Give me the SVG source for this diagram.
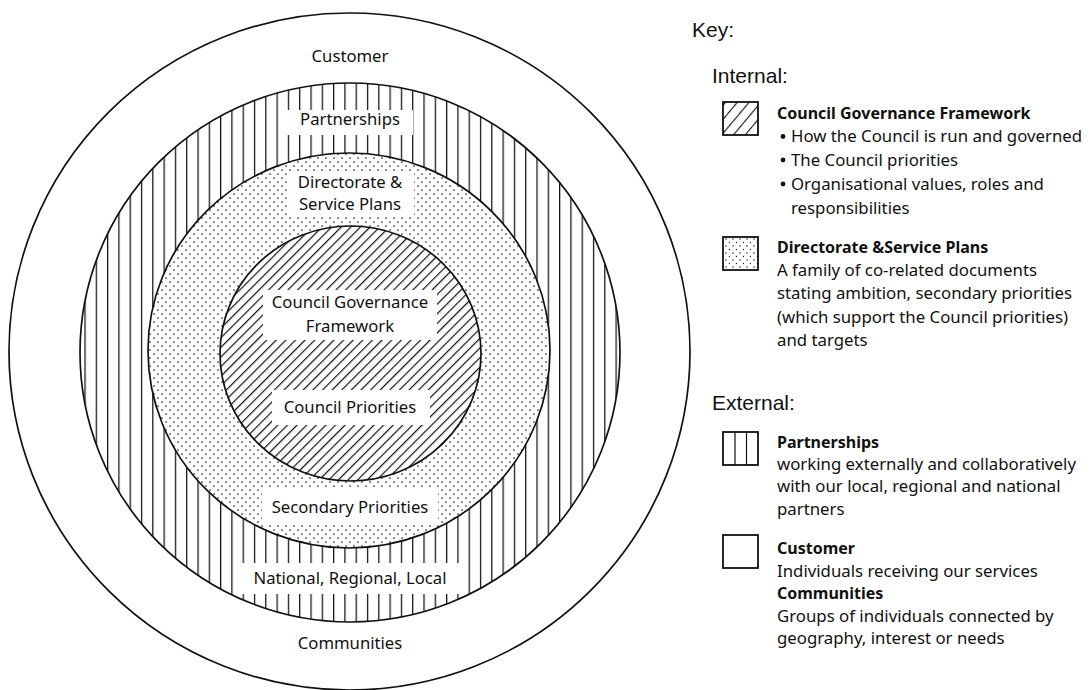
<svg xmlns="http://www.w3.org/2000/svg" width="1091" height="690" viewBox="0 0 1091 690">
<style>
.ring{stroke:#111;stroke-width:1.7}
.lbl{font-family:"Noto Sans","Open Sans",sans-serif;font-size:16.7px;fill:#111;text-anchor:middle}
.box{fill:#fff;stroke:none}
.hdr{font-family:"Liberation Sans",Arial,sans-serif;font-size:21px;fill:#111}
.kt{font-family:"Noto Sans","Open Sans",sans-serif;font-size:16.8px;fill:#111}
.kb{font-family:"Noto Sans","Open Sans",sans-serif;font-size:16px;font-weight:bold;fill:#111}
.sq{stroke:#111;stroke-width:1.8}
</style>
<defs>
<pattern id="vlines" patternUnits="userSpaceOnUse" x="84.4" y="0" width="11.3" height="20">
<rect width="11.3" height="20" fill="#fff"/>
<line x1="0.6" y1="0" x2="0.6" y2="20" stroke="#111" stroke-width="1.3"/>
</pattern>
<pattern id="hatch" patternUnits="userSpaceOnUse" width="6.8" height="6.8" patternTransform="rotate(45)">
<rect width="6.8" height="6.8" fill="#fff"/>
<line x1="0.6" y1="0" x2="0.6" y2="6.8" stroke="#111" stroke-width="1.2"/>
</pattern>
<pattern id="dots" patternUnits="userSpaceOnUse" width="8" height="8">
<rect width="8" height="8" fill="#fff"/>
<circle cx="2" cy="2" r="0.85" fill="#222"/>
<circle cx="6" cy="6" r="0.85" fill="#222"/>
</pattern>
<pattern id="khatch" patternUnits="userSpaceOnUse" width="9" height="9" patternTransform="rotate(40)">
<rect width="9" height="9" fill="#fff"/>
<line x1="0.6" y1="0" x2="0.6" y2="9" stroke="#111" stroke-width="1.1"/>
</pattern>
<pattern id="kdots" patternUnits="userSpaceOnUse" x="723" y="237" width="7" height="7">
<rect width="7" height="7" fill="#fff"/>
<circle cx="3" cy="2" r="0.75" fill="#222"/>
<circle cx="6.5" cy="5.5" r="0.75" fill="#222"/>
</pattern>
</defs>

<g id="customer-ring">
<ellipse class="ring" cx="349.5" cy="351.5" rx="340.5" ry="338.5" fill="#fff"/>
<text class="lbl" x="350" y="61.5">Customer</text>
<text class="lbl" x="350" y="648.5">Communities</text>
</g>

<g id="partnerships-ring">
<ellipse class="ring" cx="350" cy="352.5" rx="270" ry="269.5" fill="url(#vlines)"/>
<rect class="box" x="287" y="110" width="126" height="25"/>
<text class="lbl" x="350" y="124.5">Partnerships</text>
<rect class="box" x="238" y="563" width="222" height="31"/>
<text class="lbl" x="350" y="584">National, Regional, Local</text>
</g>

<g id="directorate-ring">
<ellipse class="ring" cx="349" cy="350.5" rx="201" ry="197.5" fill="url(#dots)"/>
<rect class="box" x="289" y="173" width="125" height="44"/>
<text class="lbl" x="350" y="188">Directorate &amp;</text>
<text class="lbl" x="350" y="210">Service Plans</text>
<rect class="box" x="262" y="489" width="176" height="34"/>
<text class="lbl" x="350" y="513">Secondary Priorities</text>
</g>

<g id="council-core">
<ellipse class="ring" cx="350.5" cy="353.5" rx="130.5" ry="127.5" fill="url(#hatch)"/>
<rect class="box" x="263" y="290" width="174" height="50"/>
<text class="lbl" x="350" y="308">Council Governance</text>
<text class="lbl" x="350" y="331.5">Framework</text>
<rect class="box" x="272" y="390" width="158" height="35"/>
<text class="lbl" x="350" y="413">Council Priorities</text>
</g>

<g id="key">
<text class="hdr" x="692" y="37">Key:</text>
<text class="hdr" x="712" y="83">Internal:</text>
<text class="hdr" x="712" y="410">External:</text>
</g>

<g id="key-council">
<rect class="sq" x="723" y="102" width="35" height="33" fill="url(#khatch)"/>
<text class="kb" x="777" y="119">Council Governance Framework</text>
<circle cx="783" cy="136.5" r="2.4" fill="#111"/>
<text class="kt" x="791" y="142">How the Council is run and governed</text>
<circle cx="783" cy="160" r="2.4" fill="#111"/>
<text class="kt" x="791" y="165.5">The Council priorities</text>
<circle cx="783" cy="184" r="2.4" fill="#111"/>
<text class="kt" x="791" y="189.5">Organisational values, roles and</text>
<text class="kt" x="791" y="213.5">responsibilities</text>
</g>

<g id="key-directorate">
<rect class="sq" x="723" y="237" width="35" height="33" fill="url(#kdots)"/>
<text class="kb" x="777" y="253">Directorate &amp;Service Plans</text>
<text class="kt" x="777" y="276">A family of co-related documents</text>
<text class="kt" x="777" y="299">stating ambition, secondary priorities</text>
<text class="kt" x="777" y="322.5">(which support the Council priorities)</text>
<text class="kt" x="777" y="346">and targets</text>
</g>

<g id="key-partnerships">
<rect class="sq" x="723" y="432" width="35" height="33" fill="#fff"/>
<line x1="735" y1="432" x2="735" y2="465" stroke="#111" stroke-width="1.2"/>
<line x1="746.5" y1="432" x2="746.5" y2="465" stroke="#111" stroke-width="1.2"/>
<text class="kb" x="777" y="447.5">Partnerships</text>
<text class="kt" x="777" y="469.5">working externally and collaboratively</text>
<text class="kt" x="777" y="492">with our local, regional and national</text>
<text class="kt" x="777" y="514.5">partners</text>
</g>

<g id="key-customer">
<rect class="sq" x="723" y="535" width="35" height="33" fill="#fff"/>
<text class="kb" x="777" y="553.5">Customer</text>
<text class="kt" x="777" y="577">Individuals receiving our services</text>
<text class="kb" x="777" y="599">Communities</text>
<text class="kt" x="777" y="621.5">Groups of individuals connected by</text>
<text class="kt" x="777" y="644">geography, interest or needs</text>
</g>
</svg>
